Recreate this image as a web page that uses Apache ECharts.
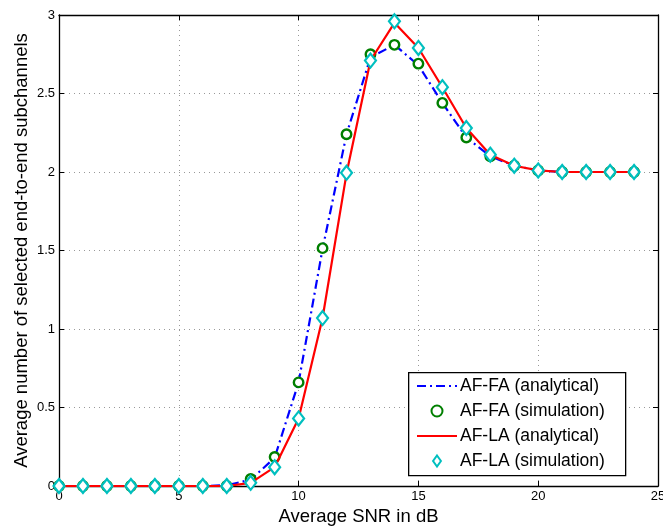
<!DOCTYPE html>
<html>
<head>
<meta charset="utf-8">
<script src="https://cdn.jsdelivr.net/npm/echarts@6/dist/echarts.min.js"></script>
<style>
  html, body { margin: 0; padding: 0; background: #fff; }
  #chart { width: 663px; height: 527px; }
</style>
</head>
<body>
<div id="chart"></div>
<script>
// Average SNR (dB)
const snr = [0,1,2,3,4,5,6,7,8,9,10,11,12,13,14,15,16,17,18,19,20,21,22,23,24];
// AF with fixed allocation
const faAnalytical = [0,0,0,0,0,0,0,0.005,0.04,0.18,0.66,1.51,2.24,2.73,2.81,2.68,2.44,2.22,2.10,2.04,2.01,2.0,2.0,2.0,2.0];
const faSimulation = [0,0,0,0,0,0,0,0,0.045,0.185,0.66,1.515,2.24,2.75,2.81,2.69,2.44,2.22,2.10,2.04,2.01,2.0,2.0,2.0,2.0];
// AF with loading allocation
const laAnalytical = [0,0,0,0,0,0,0,0,0.02,0.12,0.43,1.07,1.99,2.71,2.95,2.79,2.54,2.28,2.11,2.04,2.01,2.0,2.0,2.0,2.0];
const laSimulation = [0,0,0,0,0,0,0,0,0.02,0.12,0.43,1.07,1.995,2.71,2.96,2.79,2.54,2.28,2.11,2.04,2.01,2.0,2.0,2.0,2.0];

const xTicks = { min: 0, max: 25, interval: 5 };
const yTicks = { min: 0, max: 3, interval: 0.5 };

const pairs = arr => snr.map((x, i) => [x, arr[i]]);
const FONT = 'Liberation Sans, Arial, sans-serif';

const gridLine = { show: true, lineStyle: { color: '#999', type: [1, 4], width: 1 } };
const tickIn = { show: true, inside: true, length: 5, lineStyle: { color: '#000', width: 1 } };
const axLine = { show: true, onZero: false, lineStyle: { color: '#000', width: 1.3 } };

const diamondIcon = 'path://M5,0 L10,7 L5,14 L0,7 Z';

const chart = echarts.init(document.getElementById('chart'), null, { renderer: 'canvas' });
chart.setOption({
  backgroundColor: '#fff',
  animation: false,
  textStyle: { fontFamily: FONT },
  grid: { left: 59, right: 5, top: 15, bottom: 41, containLabel: false, outerBoundsMode: 'none' },
  xAxis: [{
    type: 'value', ...xTicks, position: 'bottom',
    name: 'Average SNR in dB', nameLocation: 'middle', nameGap: 21, nameMoveOverlap: false,
    nameTextStyle: { fontSize: 18.5, color: '#000', fontFamily: FONT },
    axisLine: axLine, axisTick: tickIn, splitLine: gridLine,
    axisLabel: { fontSize: 13, color: '#000', margin: 4, fontFamily: FONT }
  }, {
    type: 'value', ...xTicks, position: 'top',
    axisLine: axLine, axisTick: tickIn, splitLine: { show: false },
    axisLabel: { show: false }
  }],
  yAxis: [{
    type: 'value', ...yTicks, position: 'left',
    name: 'Average number of selected end-to-end subchannels', nameLocation: 'middle', nameGap: 28, nameMoveOverlap: false,
    nameTextStyle: { fontSize: 18.5, color: '#000', fontFamily: FONT },
    axisLine: axLine, axisTick: tickIn, splitLine: gridLine,
    axisLabel: { fontSize: 13, color: '#000', margin: 4, fontFamily: FONT }
  }, {
    type: 'value', ...yTicks, position: 'right',
    axisLine: axLine, axisTick: tickIn, splitLine: { show: false },
    axisLabel: { show: false }
  }],
  graphic: [{
    type: 'rect', left: 408, top: 372, z: 100,
    shape: { width: 217, height: 103 },
    style: { fill: '#fff', stroke: '#000', lineWidth: 1.3 }
  }],
  legend: {
    orient: 'vertical', left: 411, top: 372, z: 101,
    itemWidth: 40, itemHeight: 11, itemGap: 7, symbolKeepAspect: true,
    textStyle: { fontSize: 17.5, color: '#000', fontFamily: FONT, padding: [0, 0, 0, -2] },
    data: [
      { name: 'AF-FA (analytical)', itemStyle: { opacity: 0 } },
      { name: 'AF-FA (simulation)', icon: 'circle' },
      { name: 'AF-LA (analytical)', itemStyle: { opacity: 0 } },
      { name: 'AF-LA (simulation)', icon: diamondIcon }
    ]
  },
  series: [{
    name: 'AF-FA (analytical)', type: 'line', data: pairs(faAnalytical),
    symbol: 'none', color: '#0000ff',
    lineStyle: { color: '#0000ff', width: 2.2, type: [9, 4, 2, 4] }, z: 3
  }, {
    name: 'AF-FA (simulation)', type: 'scatter', data: pairs(faSimulation),
    symbol: 'circle', symbolSize: 9.5, color: '#007f00',
    itemStyle: { color: '#ffffff', borderColor: '#007f00', borderWidth: 2.4, opacity: 1 }, z: 4
  }, {
    name: 'AF-LA (analytical)', type: 'line', data: pairs(laAnalytical),
    symbol: 'none', color: '#ff0000',
    lineStyle: { color: '#ff0000', width: 2.2 }, z: 5
  }, {
    name: 'AF-LA (simulation)', type: 'scatter', data: pairs(laSimulation),
    symbol: 'diamond', symbolSize: [11, 14], color: '#00bfbf',
    itemStyle: { color: '#ffffff', borderColor: '#00bfbf', borderWidth: 2.2, opacity: 1 }, z: 6
  }]
});
</script>
</body>
</html>
